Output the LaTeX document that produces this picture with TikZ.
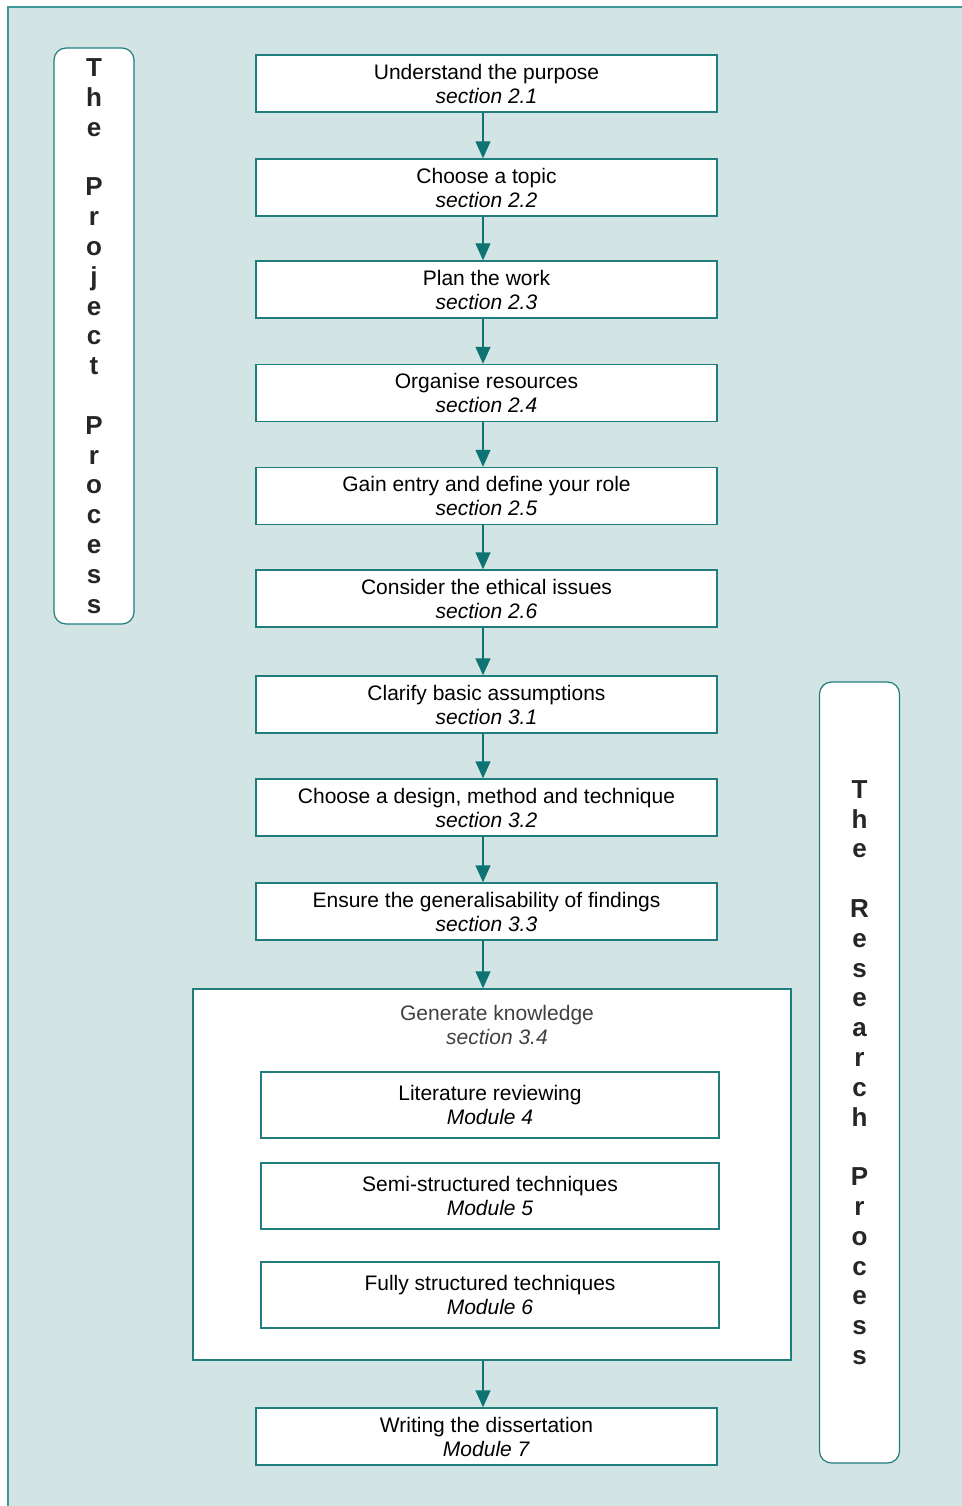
\documentclass[tikz,border=0pt]{standalone}
\usepackage{fontspec}
\setmainfont{Liberation Sans}
\usetikzlibrary{positioning, arrows.meta}

\definecolor{bgteal}{HTML}{D2E4E4}
\definecolor{frameteal}{HTML}{3F9898}
\definecolor{lineteal}{HTML}{1F7D7D}
\definecolor{arrowteal}{HTML}{0D7373}
\definecolor{titlegrey}{HTML}{404040}

\begin{document}
\begin{tikzpicture}[
    x=1pt, y=-1pt,
    stagebox/.style={rectangle, draw=lineteal, line width=1.4pt, fill=white,
                     minimum width=461pt, minimum height=57pt, inner sep=0pt,
                     align=center, font=\fontsize{21}{24}\selectfont},
    subbox/.style={stagebox, minimum width=458pt, minimum height=66pt},
    sidebox/.style={rectangle, draw=lineteal, line width=1.2pt, fill=white,
                    rounded corners=12pt, minimum width=80pt, inner sep=0pt,
                    align=center, text=black!85,
                    font=\fontsize{26}{29.8}\selectfont\bfseries},
    arrow/.style={-{Triangle[length=17pt, width=15pt]}, line width=1.4pt, arrowteal}
]
    \useasboundingbox (0,0) rectangle (961,1506);

    % === Background frame ===
    \fill[bgteal] (8,7) rectangle (975,1520);
    \draw[frameteal, line width=2pt] (8,1520) -- (8,7) -- (975,7);

    % === Side labels ===
    \node[sidebox, minimum height=576pt] (project) at (94,336)
        {T\\h\\e\\~\\P\\r\\o\\j\\e\\c\\t\\~\\P\\r\\o\\c\\e\\s\\s};
    \node[sidebox, minimum height=781pt] (research) at (859.5,1072.5)
        {T\\h\\e\\~\\R\\e\\s\\e\\a\\r\\c\\h\\~\\P\\r\\o\\c\\e\\s\\s};

    % === Main stages ===
    \node[stagebox] (purpose) at (486.5,83.5) {Understand the purpose\\\textit{section 2.1}};
    \node[stagebox] (topic) at (486.5,187.5) {Choose a topic\\\textit{section 2.2}};
    \node[stagebox] (plan) at (486.5,289.5) {Plan the work\\\textit{section 2.3}};
    \node[stagebox] (resources) at (486.5,393) {Organise resources\\\textit{section 2.4}};
    \node[stagebox] (entry) at (486.5,496) {Gain entry and define your role\\\textit{section 2.5}};
    \node[stagebox] (ethics) at (486.5,598.5) {Consider the ethical issues\\\textit{section 2.6}};
    \node[stagebox] (assume) at (486.5,704.5) {Clarify basic assumptions\\\textit{section 3.1}};
    \node[stagebox] (design) at (486.5,807.5) {Choose a design, method and technique\\\textit{section 3.2}};
    \node[stagebox] (general) at (486.5,911.5) {Ensure the generalisability of findings\\\textit{section 3.3}};

    % === Generate knowledge ===
    \node[rectangle, draw=lineteal, line width=1.4pt, fill=white,
          minimum width=598pt, minimum height=371pt] (knowledge) at (492,1174.5) {};
    \node[align=center, text=titlegrey, font=\fontsize{21}{24}\selectfont]
        (knowtitle) at (497,1024.5) {Generate knowledge\\\textit{section 3.4}};
    \node[subbox] (literature) at (490,1105) {Literature reviewing\\\textit{Module 4}};
    \node[subbox] (semi) at (490,1196) {Semi-structured techniques\\\textit{Module 5}};
    \node[subbox] (fully) at (490,1295) {Fully structured techniques\\\textit{Module 6}};

    \node[stagebox] (writing) at (486.5,1436.5) {Writing the dissertation\\\textit{Module 7}};

    % Arrows
    \foreach \a/\b in {purpose/topic, topic/plan, plan/resources, resources/entry,
                       entry/ethics, ethics/assume, assume/design, design/general}
        \draw[arrow] ([xshift=-3.5pt]\a.south) -- ([xshift=-3.5pt]\b.north);
    \draw[arrow] ([xshift=-3.5pt]general.south) -- ([xshift=-3.5pt]general.south |- knowledge.north);
    \draw[arrow] ([xshift=-3.5pt]writing.north |- knowledge.south) -- ([xshift=-3.5pt]writing.north);
\end{tikzpicture}
\end{document}
